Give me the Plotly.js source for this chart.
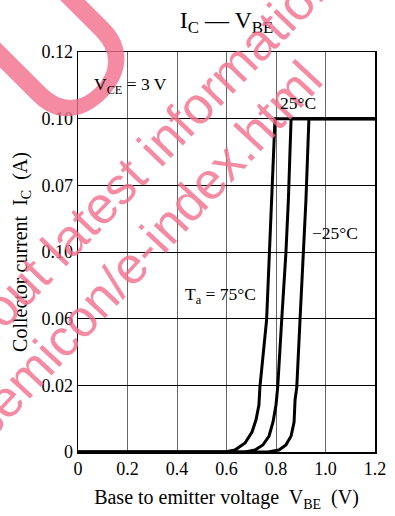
<!DOCTYPE html>
<html>
<head>
<meta charset="utf-8">
<script src="https://cdn.plot.ly/plotly-3.0.1.min.js"></script>
<style>html,body{margin:0;padding:0;background:#fff;}#chart{width:395px;height:516px;}</style>
</head>
<body>
<div id="chart"></div>
<script>
// Ta = 75 °C
const vbe75 = [0, 0.594, 0.634, 0.675, 0.703, 0.719, 0.731, 0.735, 0.762, 0.773, 0.783, 0.796, 1.2];
const ic75  = [0, 0, 0.0006, 0.0027, 0.006, 0.0096, 0.0141, 0.0195, 0.0396, 0.0597, 0.0756, 0.1, 0.1];
// Ta = 25 °C
const vbe25 = [0, 0.675, 0.715, 0.747, 0.772, 0.788, 0.800, 0.807, 0.823, 0.840, 0.850, 0.861, 1.2];
const ic25  = [0, 0, 0.0006, 0.0021, 0.0048, 0.009, 0.0141, 0.0195, 0.0396, 0.0597, 0.0756, 0.1, 0.1];
// Ta = -25 °C
const vbeM25 = [0, 0.768, 0.812, 0.840, 0.861, 0.873, 0.877, 0.884, 0.897, 0.910, 0.921, 0.933, 1.2];
const icM25  = [0, 0, 0.0006, 0.0021, 0.0048, 0.009, 0.0156, 0.0195, 0.0396, 0.0597, 0.0756, 0.1, 0.1];

const xTickVals = [0, 0.2, 0.4, 0.6, 0.8, 1.0, 1.2];
const xTickText = ['0', '0.2', '0.4', '0.6', '0.8', '1.0', '1.2'];
const yTickVals = [0, 0.02, 0.04, 0.06, 0.08, 0.10, 0.12];
const yTickText = ['0', '0.02', '0.06', '0.10', '0.07', '0.10', '0.12'];

const serif = '"Liberation Serif", "Times New Roman", Times, serif';
const sans = '"Liberation Sans", Arial, sans-serif';
const curveLine = {color: 'black', width: 3};
const pink = 'rgba(242,110,140,0.8)';

const traces = [
  {x: vbe75, y: ic75, mode: 'lines', line: curveLine, name: '75°C', hoverinfo: 'skip'},
  {x: vbe25, y: ic25, mode: 'lines', line: curveLine, name: '25°C', hoverinfo: 'skip'},
  {x: vbeM25, y: icM25, mode: 'lines', line: curveLine, name: '-25°C', hoverinfo: 'skip'}
];

// watermark positions (pixel centres converted to paper fractions of the plot area)
const px = v => (v - 78) / 297;
const py = v => (452 - v) / 400;

const layout = {
  width: 395, height: 516,
  margin: {l: 78, r: 20, t: 52, b: 64},
  paper_bgcolor: 'white', plot_bgcolor: 'white',
  showlegend: false,
  font: {family: serif, size: 18, color: 'black'},
  title: {text: 'I<sub>C</sub> — V<sub>BE</sub>', font: {family: serif, size: 24, color: 'black'},
          x: 0.5, xanchor: 'center', y: 0.962, yanchor: 'middle', xref: 'paper', yref: 'container'},
  xaxis: {
    range: [0, 1.2], tickvals: xTickVals, ticktext: xTickText, ticks: '',
    showgrid: true, gridcolor: '#666', gridwidth: 1, zeroline: false,
    showline: true, linecolor: 'black', linewidth: 1.5, mirror: true,
    tickfont: {family: serif, size: 18},
    title: {text: 'Base to emitter voltage  V<sub>BE</sub>  (V)', font: {family: serif, size: 20}, standoff: 12}
  },
  yaxis: {
    range: [0, 0.12], tickvals: yTickVals, ticktext: yTickText, ticks: '',
    showgrid: true, gridcolor: 'black', gridwidth: 1, zeroline: false,
    showline: true, linecolor: 'black', linewidth: 1.5, mirror: true,
    tickfont: {family: serif, size: 18},
    title: {text: 'Collector current  I<sub>C</sub>  (A)', font: {family: serif, size: 20}, standoff: 8}
  },
  annotations: [
    {text: 'about latest information', xref: 'paper', yref: 'paper', x: px(138), y: py(166),
     xanchor: 'center', yanchor: 'middle', showarrow: false, textangle: -46,
     font: {family: sans, size: 52, color: pink}},
    {text: 'semicon/e-index.html', xref: 'paper', yref: 'paper', x: px(144), y: py(250),
     xanchor: 'center', yanchor: 'middle', showarrow: false, textangle: -47,
     font: {family: sans, size: 52, color: pink}},
    {text: 'U', xref: 'paper', yref: 'paper', x: px(58), y: py(50),
     xanchor: 'center', yanchor: 'middle', showarrow: false, textangle: -45,
     font: {family: sans, size: 190, color: pink}},
    {text: 'V<sub>CE</sub> = 3 V', x: 0.057, y: 0.110, xanchor: 'left', yanchor: 'middle', showarrow: false,
     font: {family: serif, size: 17.5}},
    {text: '25°C', x: 0.889, y: 0.1047, xanchor: 'center', yanchor: 'middle', showarrow: false,
     font: {family: serif, size: 17.5}},
    {text: '−25°C', x: 1.038, y: 0.0657, xanchor: 'center', yanchor: 'middle', showarrow: false,
     font: {family: serif, size: 17.5}},
    {text: 'T<sub>a</sub> = 75°C', x: 0.574, y: 0.0471, xanchor: 'center', yanchor: 'middle', showarrow: false,
     font: {family: serif, size: 17.5}}
  ]
};

Plotly.newPlot('chart', traces, layout, {staticPlot: true, displayModeBar: false});
</script>
</body>
</html>
